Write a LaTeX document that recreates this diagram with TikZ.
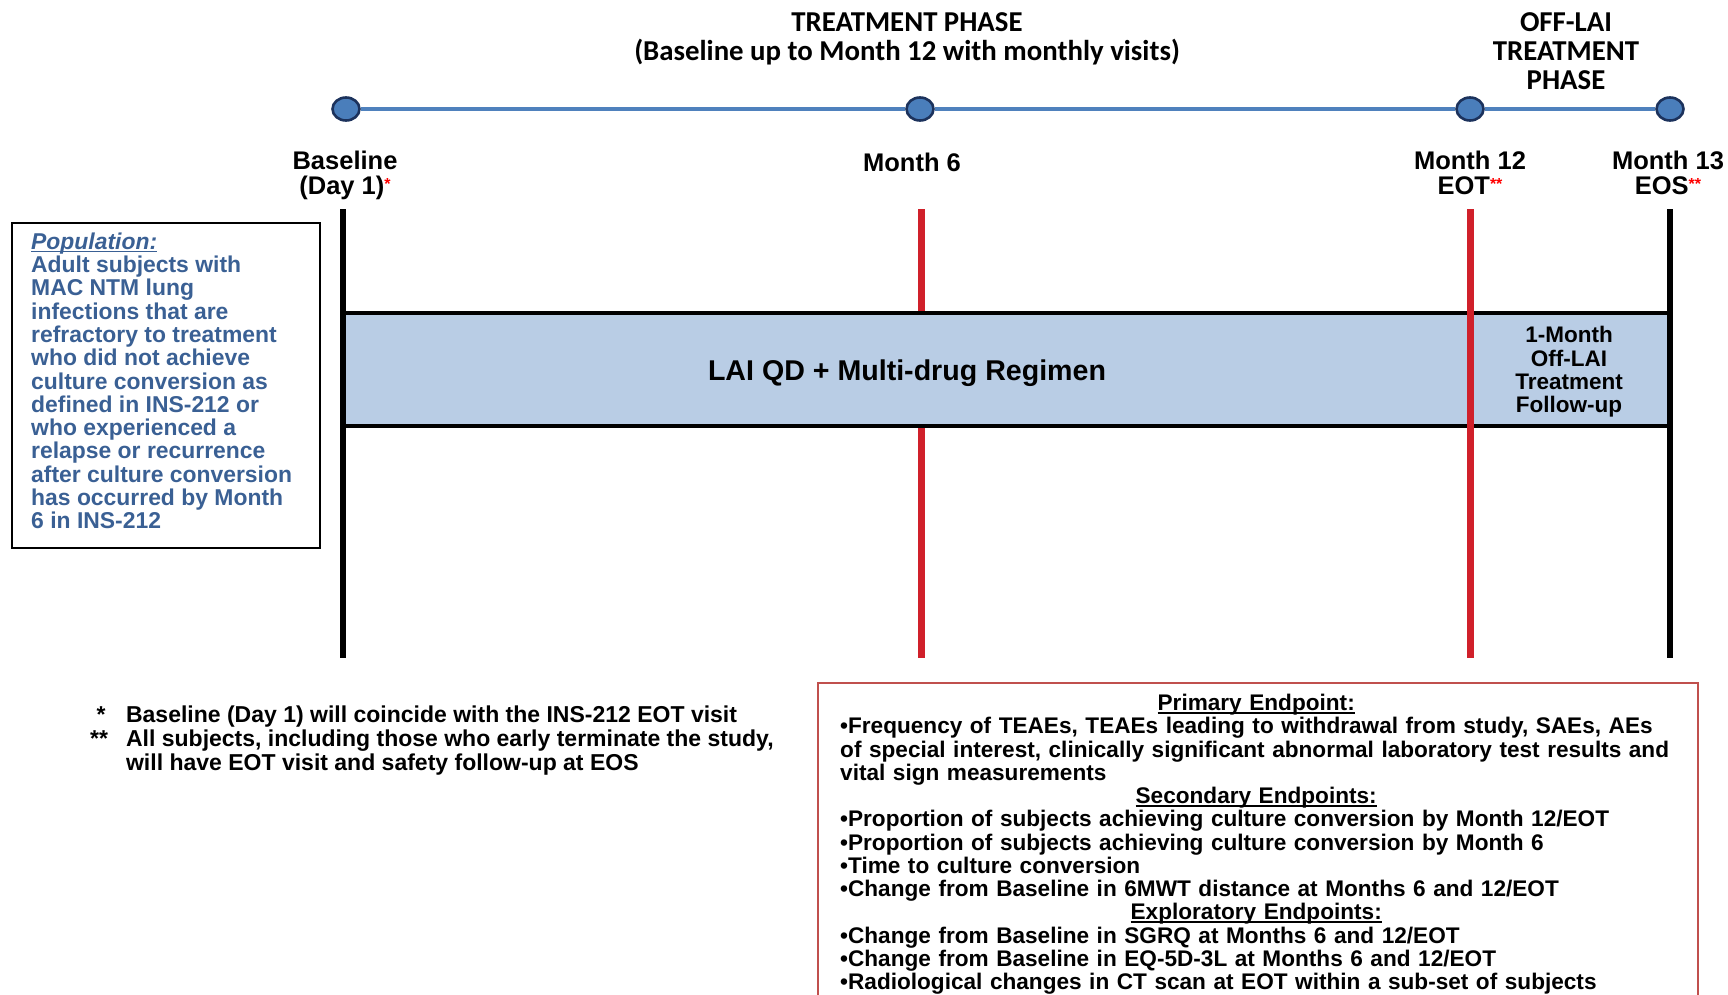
\documentclass[tikz,border=0pt]{standalone}
\usepackage{fontspec}
\setmainfont{Liberation Sans}
\newfontfamily\hdfont{Carlito}
\usetikzlibrary{shapes.geometric}
\definecolor{lineblue}{RGB}{79,129,189}
\definecolor{dotblue}{RGB}{74,126,187}
\definecolor{dotrim}{RGB}{28,50,92}
\definecolor{bandblue}{RGB}{185,205,229}
\definecolor{popblue}{RGB}{58,96,148}
\definecolor{visitred}{RGB}{208,32,42}
\definecolor{boxred}{RGB}{192,80,77}
\newcommand\redstar[1]{\textcolor{red}{\fontsize{16}{16}\selectfont\raisebox{5pt}{#1}}}
\newcommand\uln[1]{\setbox0\hbox{#1}\rlap{\rule[-3pt]{\wd0}{1.4pt}}\box0}

\begin{document}
\begin{tikzpicture}[x=1pt, y=-1pt,
    visit/.style={ellipse, draw=dotrim, fill=dotblue, line width=2.6pt, minimum width=27pt, minimum height=23pt, inner sep=0pt},
    lbl/.style={font=\bfseries\fontsize{25.5}{25}\selectfont, align=center, inner sep=0pt},
    phase/.style={font=\hdfont\bfseries\fontsize{28.8}{29.3}\selectfont, align=center, inner sep=0pt},
    bar/.style={line width=5.5pt},
    redbar/.style={visitred, line width=7pt}]
				\useasboundingbox (0,0) rectangle (1728,995);

				% phase headers
				\node[phase] (treat) at (907,39) {TREATMENT PHASE\\(Baseline up to Month 12 with monthly visits)};
				\node[phase] (offlai) at (1566,51) {OFF-LAI\\TREATMENT\\PHASE};

				% timeline
				\node[visit] (d0) at (346,109) {};
				\node[visit] (d1) at (920,109) {};
				\node[visit] (d2) at (1470,109) {};
				\node[visit] (d3) at (1670,109) {};
				\draw[lineblue, line width=4.5pt] (d0) -- (d1) -- (d2) -- (d3);

				\node[lbl] (base) at (345,175) {Baseline\\(Day 1)\redstar{*}};
				\node[lbl] (m6) at (912,162) {Month 6};
				\node[lbl] (m12) at (1470,173) {Month 12\\EOT\redstar{**}};
				\node[lbl] (m13) at (1668,173) {Month 13\\EOS\redstar{**}};

				% visit bars
				\coordinate (t0) at (343,209);  \coordinate (b0) at (343,658);
				\coordinate (t1) at (921,209);  \coordinate (b1) at (921,658);
				\coordinate (t2) at (1470,209); \coordinate (b2) at (1470,658);
				\coordinate (t3) at (1670,209); \coordinate (b3) at (1670,658);
				\draw[bar] (t0) -- (b0);
				\draw[bar] (t3) -- (b3);
				\draw[redbar] (t1) -- (b1);

				% treatment band
				\fill[bandblue] (346,313) rectangle (1667,426);
				\draw[line width=4.5pt] (341,313) -- (1672,313);
				\draw[line width=4.5pt] (341,426) -- (1672,426);
				\draw[redbar] (t2) -- (b2);
				\node[font=\bfseries\fontsize{28.6}{30}\selectfont] (regimen) at (907,373) {LAI QD + Multi-drug Regimen};
				\node[lbl, font=\bfseries\fontsize{22.5}{23.3}\selectfont] (offtx) at (1569,372) {1-Month\\Off-LAI\\Treatment\\Follow-up};

				% population
				\draw[line width=1.5pt] (12,223) rectangle (320,548);
				\node[anchor=north west, inner sep=0pt, align=left, text=popblue,
				  font=\bfseries\fontsize{22.9}{23.3}\selectfont] (pop) at (31,232.5)
				  {\uln{\textit{Population:}}\\Adult subjects with\\MAC NTM lung\\infections that are\\refractory to treatment\\who did not achieve\\culture conversion as\\defined in INS-212 or\\who experienced a\\relapse or recurrence\\after culture conversion\\has occurred by Month\\6 in INS-212};

				% footnotes
				\node[anchor=north west, inner sep=0pt, font=\bfseries\fontsize{23}{23}\selectfont] (notes) at (90,706)
				  {\begin{tabular}{@{}l@{\hspace{18pt}}l@{}}
				  {\ *} & Baseline (Day 1) will coincide with the INS-212 EOT visit\\
				  {**} & All subjects, including those who early terminate the study,\\
				  {} & will have EOT visit and safety follow-up at EOS
				  \end{tabular}};

				% endpoints
				\draw[boxred, line width=1.5pt] (818,1000) |- (1698,683) -- (1698,1000);
				\node[anchor=north west, inner sep=0pt, align=left, text width=880pt,
				  font=\bfseries\fontsize{22.6}{23.25}\selectfont] (endpts) at (840,694)
				  {\makebox[832pt]{\uln{Primary Endpoint:}}\\
				  •Frequency of TEAEs, TEAEs leading to withdrawal from study, SAEs, AEs\\
				  of special interest, clinically significant abnormal laboratory test results and\\
				  vital sign measurements\\
				  \makebox[832pt]{\uln{Secondary Endpoints:}}\\
				  •Proportion of subjects achieving culture conversion by Month 12/EOT\\
				  •Proportion of subjects achieving culture conversion by Month 6\\
				  •Time to culture conversion\\
				  •Change from Baseline in 6MWT distance at Months 6 and 12/EOT\\
				  \makebox[832pt]{\uln{Exploratory Endpoints:}}\\
				  •Change from Baseline in SGRQ at Months 6 and 12/EOT\\
				  •Change from Baseline in EQ-5D-3L at Months 6 and 12/EOT\\
				  •Radiological changes in CT scan at EOT within a sub-set of subjects};
			\end{tikzpicture}
\end{document}
